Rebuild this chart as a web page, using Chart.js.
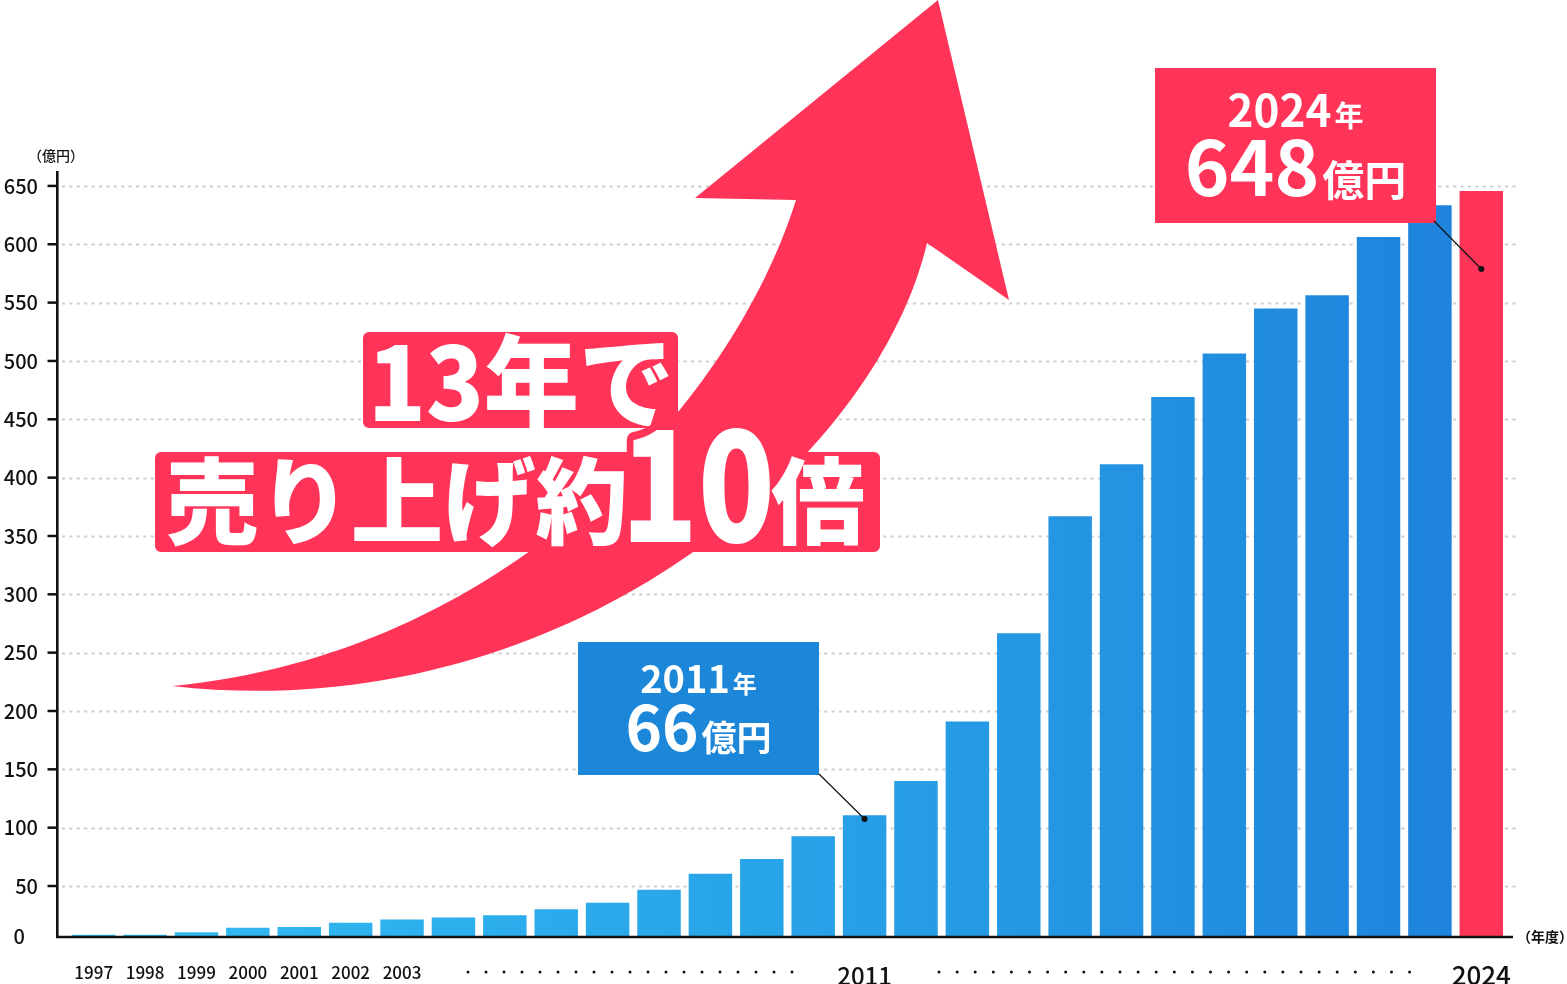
<!DOCTYPE html>
<html lang="ja">
<head>
<meta charset="utf-8">
<title>売り上げ推移</title>
<script src="https://cdn.jsdelivr.net/npm/chart.js@4.4.1/dist/chart.umd.min.js"></script>
<style>
  html, body { margin: 0; padding: 0; background: #fff; }
  #wrap { width: 1567px; height: 984px; }
</style>
</head>
<body>
<div id="wrap"><canvas id="sales-chart" width="1567" height="984"></canvas></div>
<script>
// --- dados do gráfico (億円) ---
const yearLabels = ['1997', '1998', '1999', '2000', '2001', '2002', '2003',
    '', '', '', '', '', '', '', '', '2011',
    '', '', '', '', '', '', '', '', '', '', '', '2024'];
const salesValues = [8.3, 8.3, 10.3, 14.3, 14.8, 18.6, 21.2, 23.1, 24.9, 30.0,
    35.7, 46.9, 60.6, 73.1, 92.6, 110.6, 140.0, 190.9, 266.6, 366.9,
    411.4, 469.1, 506.3, 544.9, 556.3, 606.3, 633.4, 645.7];
const yTickValues = [50, 100, 150, 200, 250, 300, 350, 400, 450, 500, 550, 600, 650];
const yZeroLabel = '0';     // o "0" fica na linha do eixo (eixo cortado)
const yMin = 6.3;
const yMax = 662.8;
const bigYearLabels = { '2011': 24, '2024': 26 };

// textos dos destaques
const headline1 = '13年で';
const headline2a = '売り上げ約';
const headline2b = '10';
const headline2c = '倍';
const callout2011 = [['2011', '年'], ['66', '億円']];
const callout2024 = [['2024', '年'], ['648', '億円']];

const FONT = '"Noto Sans CJK JP", "Noto Sans", sans-serif';
const RED = '#ff3458';
const BLUE_BOX = '#1c87d9';

// texto ajustado a uma largura
function fitText(ctx, text, font, x, y, w, stroke) {
    ctx.save();
    ctx.font = font;
    ctx.textAlign = 'left';
    ctx.textBaseline = 'middle';
    const m = ctx.measureText(text).width;
    ctx.translate(x, y);
    ctx.scale(w / m, 1);
    if (stroke) {
        ctx.lineJoin = 'round';
        ctx.lineWidth = stroke;
        ctx.strokeStyle = RED;
        ctx.strokeText(text, 0, 0);
    }
    ctx.fillStyle = '#fff';
    ctx.fillText(text, 0, 0);
    ctx.restore();
}

function drawCallout(ctx, box, color, lines, sizes, baselines, target) {
    ctx.fillStyle = color;
    ctx.fillRect(box.x, box.y, box.w, box.h);
    const cx = box.x + box.w / 2;
    ctx.fillStyle = '#fff';
    ctx.textBaseline = 'alphabetic';
    ctx.textAlign = 'left';
    lines.forEach((parts, i) => {
        const [big, small] = sizes[i];
        ctx.font = `bold ${big}px ${FONT}`;
        const w1 = ctx.measureText(parts[0]).width;
        ctx.font = `bold ${small}px ${FONT}`;
        const w2 = ctx.measureText(parts[1]).width;
        const gap = 3;
        let x = cx - (w1 + gap + w2) / 2;
        ctx.font = `bold ${big}px ${FONT}`;
        ctx.fillText(parts[0], x, baselines[i]);
        ctx.font = `bold ${small}px ${FONT}`;
        ctx.fillText(parts[1], x + w1 + gap, baselines[i]);
    });
    // linha de ligação até a barra
    ctx.strokeStyle = '#111';
    ctx.lineWidth = 1.2;
    ctx.beginPath();
    ctx.moveTo(target.fx, target.fy);
    ctx.lineTo(target.x, target.y);
    ctx.stroke();
    ctx.fillStyle = '#111';
    ctx.beginPath();
    ctx.arc(target.x, target.y, 3, 0, Math.PI * 2);
    ctx.fill();
}

const decorPlugin = {
    id: 'decor',
    beforeDatasetsDraw(chart) {
        const { ctx, scales: { x, y } } = chart;
        ctx.save();
        // linhas de grade pontilhadas
        ctx.strokeStyle = '#cdcdcd';
        ctx.lineWidth = 2;
        ctx.setLineDash([3, 4.4]);
        yTickValues.forEach(v => {
            const py = Math.round(y.getPixelForValue(v)) + 0.5;
            ctx.beginPath();
            ctx.moveTo(62, py);
            ctx.lineTo(1516, py);
            ctx.stroke();
        });
        ctx.setLineDash([]);
        // marcas e rótulos do eixo Y
        ctx.strokeStyle = '#111';
        ctx.lineWidth = 2.5;
        ctx.fillStyle = '#111';
        ctx.font = `500 20px ${FONT}`;
        ctx.textAlign = 'right';
        ctx.textBaseline = 'middle';
        yTickValues.forEach(v => {
            const py = y.getPixelForValue(v);
            ctx.beginPath();
            ctx.moveTo(47.5, py);
            ctx.lineTo(58, py);
            ctx.stroke();
            ctx.fillText(String(v), 38, py);
        });
        ctx.fillText(yZeroLabel, 25, y.getPixelForValue(yMin) - 1);
        // unidade
        ctx.textAlign = 'center';
        ctx.font = `500 14px ${FONT}`;
        ctx.fillText('（億円）', 56, 156);
        ctx.font = `bold 14px ${FONT}`;
        ctx.textAlign = 'left';
        ctx.fillText('（年度）', 1517, 937);

        // rótulos do eixo X
        ctx.textAlign = 'center';
        ctx.textBaseline = 'alphabetic';
        yearLabels.forEach((lab, i) => {
            if (!lab) return;
            const px = x.getPixelForValue(i);
            if (bigYearLabels[lab]) {
                ctx.font = `500 ${bigYearLabels[lab]}px ${FONT}`;
                ctx.fillText(lab, px, 985);
            } else {
                ctx.font = `500 17px ${FONT}`;
                ctx.fillText(lab, px, 979);
            }
        });
        // pontinhos "・・・" entre os anos
        const dotRow = (x0, n, step) => {
            for (let k = 0; k < n; k++) {
                ctx.beginPath();
                ctx.arc(x0 + k * step, 972, 1.5, 0, Math.PI * 2);
                ctx.fill();
            }
        };
        dotRow(468, 19, 18);
        dotRow(939, 27, 18.1);
        ctx.restore();
    },
    afterDatasetsDraw(chart) {
        const { ctx, scales: { x, y } } = chart;
        ctx.save();
        // eixos
        const baseY = y.getPixelForValue(yMin);
        ctx.strokeStyle = '#111';
        ctx.lineWidth = 2.6;
        ctx.beginPath();
        ctx.moveTo(57.3, 171);
        ctx.lineTo(57.3, baseY + 1.3);
        ctx.moveTo(56, baseY);
        ctx.lineTo(1513, baseY);
        ctx.stroke();

        // seta vermelha (corpo curvo + ponta)
        ctx.fillStyle = RED;
        ctx.beginPath();
        ctx.moveTo(172, 686);
        ctx.bezierCurveTo(500, 655, 730, 410, 796, 200);
        ctx.lineTo(695, 198);
        ctx.lineTo(938, 0);
        ctx.lineTo(1009, 300);
        ctx.lineTo(927, 243);
        ctx.bezierCurveTo(875, 465, 560, 730, 172, 686);
        ctx.closePath();
        ctx.fill();

        // manchete
        ctx.fillStyle = RED;
        ctx.beginPath();
        ctx.roundRect(363, 332, 315, 96, 6);
        ctx.fill();
        ctx.beginPath();
        ctx.roundRect(155, 452, 725, 100, 6);
        ctx.fill();
        fitText(ctx, headline1, `900 102px ${FONT}`, 368, 382, 306);
        fitText(ctx, headline2a, `900 94px ${FONT}`, 166, 501, 462);
        fitText(ctx, headline2b, `900 150px ${FONT}`, 621, 485, 154, 16);
        fitText(ctx, headline2c, `900 94px ${FONT}`, 771, 501, 94);

        // destaques 2011 e 2024
        const i2011 = yearLabels.indexOf('2011');
        const i2024 = yearLabels.indexOf('2024');
        drawCallout(ctx, { x: 578, y: 642, w: 241, h: 133 }, BLUE_BOX,
            callout2011, [[38, 24], [62, 35]], [693, 751],
            { fx: 819, fy: 774, x: x.getPixelForValue(i2011), y: 819 });
        drawCallout(ctx, { x: 1155, y: 68, w: 281, h: 155 }, RED,
            callout2024, [[44, 29], [76, 42]], [127, 196],
            { fx: 1434, fy: 221, x: x.getPixelForValue(i2024), y: 269 });
        ctx.restore();
    }
};

document.addEventListener('DOMContentLoaded', () => {
    const canvas = document.getElementById('sales-chart');
    const ctx = canvas.getContext('2d');

    // degradê azul da esquerda para a direita
    const blueGrad = ctx.createLinearGradient(68, 0, 1455, 0);
    blueGrad.addColorStop(0, '#33bcf3');
    blueGrad.addColorStop(0.5, '#28a4e8');
    blueGrad.addColorStop(1, '#1e83dc');

    const lastIndex = salesValues.length - 1;

    new Chart(ctx, {
        type: 'bar',
        data: {
            labels: yearLabels,
            datasets: [{
                data: salesValues,
                backgroundColor: c => (c.dataIndex === lastIndex ? RED : blueGrad),
                borderWidth: 0,
                categoryPercentage: 1,
                barPercentage: 0.846
            }]
        },
        options: {
            responsive: false,
            animation: false,
            layout: { padding: { left: 68, right: 60, top: 171, bottom: 47 } },
            plugins: { legend: { display: false }, tooltip: { enabled: false } },
            scales: {
                x: { display: false, offset: true, grid: { display: false } },
                y: { display: false, min: yMin, max: yMax, grid: { display: false } }
            }
        },
        plugins: [decorPlugin]
    });
});
</script>
</body>
</html>
